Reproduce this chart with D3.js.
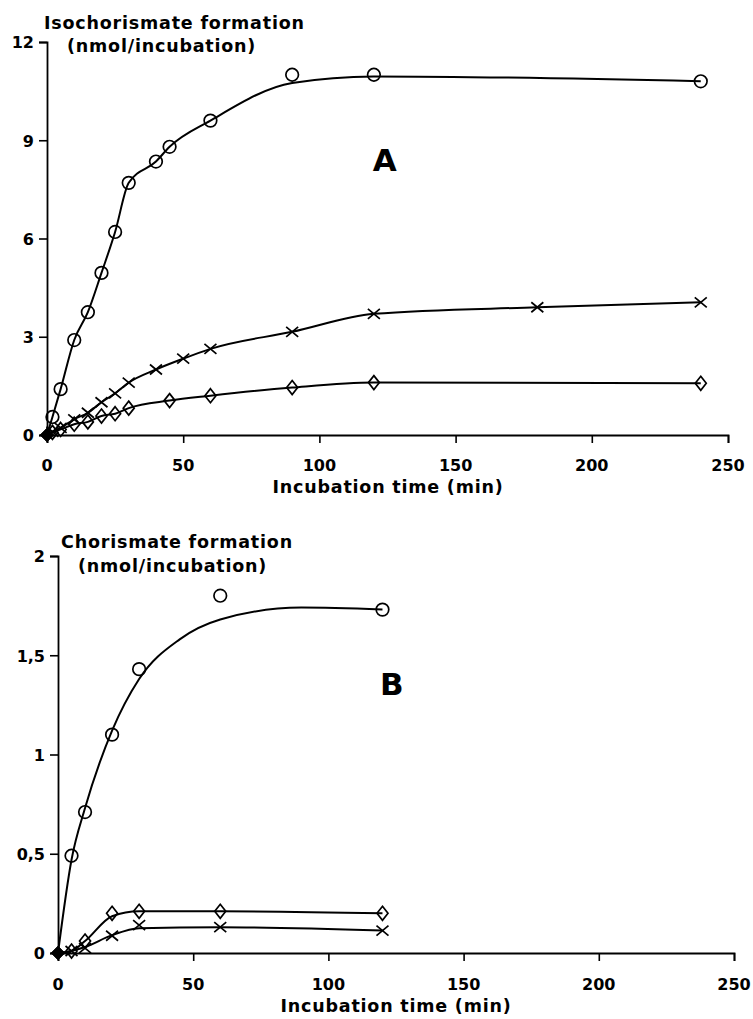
<!DOCTYPE html>
<html lang="en">

<head>
    <meta charset="UTF-8">
    <title>Isochorismate / chorismate formation</title>
    <script src="https://d3js.org/d3.v7.min.js"></script>
</head>

<style>
    body {
        margin: 0;
        background: #fff;
    }

    svg text {
        font-family: "DejaVu Sans", Arial, Helvetica, sans-serif;
        font-weight: bold;
        fill: #000;
    }

    .fit {
        stroke: #000;
        stroke-width: 2;
        fill: none;
    }

    .mark {
        stroke: #000;
        stroke-width: 1.7;
        fill: none;
    }
</style>

<body>
    <script>
        // panel A: isochorismate formation
        const xTicks = [0, 50, 100, 150, 200, 250]
        const yTicksA = [0, 3, 6, 9, 12]
        const yTicksB = [0, 0.5, 1, 1.5, 2]

        const timeACircle = [0, 2, 5, 10, 15, 20, 25, 30, 40, 45, 60, 90, 120, 240]
        const isoCircle = [0, 0.55, 1.4, 2.9, 3.75, 4.95, 6.2, 7.7, 8.35, 8.8, 9.6, 11.0, 11.0, 10.8]
        const isoCircleFit = [0, 0.55, 1.4, 2.9, 3.75, 4.95, 6.2, 7.7, 8.35, 8.8, 9.6, 10.75, 10.95, 10.8]

        const timeACross = [0, 2, 5, 10, 15, 20, 25, 30, 40, 50, 60, 90, 120, 180, 240]
        const isoCross = [0, 0.1, 0.22, 0.48, 0.68, 1.0, 1.27, 1.6, 2.0, 2.33, 2.63, 3.15, 3.7, 3.9, 4.05]

        const timeADiamond = [0, 2, 5, 10, 15, 20, 25, 30, 45, 60, 90, 120, 240]
        const isoDiamond = [0, 0.08, 0.17, 0.33, 0.4, 0.58, 0.65, 0.82, 1.05, 1.2, 1.45, 1.6, 1.58]

        // panel B: chorismate formation
        const timeB = [0, 5, 10, 20, 30, 60, 120]
        const choCircle = [0, 0.49, 0.71, 1.1, 1.43, 1.8, 1.73]
        const timeBCircleFit = [0, 5, 10, 20, 30, 45, 60, 90, 120]
        const choCircleFit = [0, 0.47, 0.73, 1.12, 1.38, 1.58, 1.68, 1.74, 1.73]
        const choDiamond = [0, 0.01, 0.06, 0.2, 0.21, 0.21, 0.2]
        const choDiamondFit = [0, 0.01, 0.06, 0.185, 0.21, 0.21, 0.2]
        const choCross = [0, 0.01, 0.025, 0.087, 0.14, 0.13, 0.113]
        const choCrossFit = [0, 0.01, 0.03, 0.09, 0.125, 0.13, 0.113]

        const zip = (xs, ys) => xs.map((t, i) => ({ t: t, v: ys[i] }))

        const panels = [
            {
                xRange: [47, 728], yRange: [435, 42], yMax: 12, yTicks: yTicksA,
                fmt: d => d,
                title: ["Isochorismate formation", "(nmol/incubation)"],
                titleX: [44, 67], titleY: [29, 52],
                tickY: 471, labelY: 493, labelX: 388,
                letter: "A", letterPos: [124, 8.05],
                series: [
                    { shape: "circle", pts: zip(timeACircle, isoCircle), fit: zip(timeACircle, isoCircleFit) },
                    { shape: "cross", pts: zip(timeACross, isoCross), fit: zip(timeACross, isoCross) },
                    { shape: "diamond", pts: zip(timeADiamond, isoDiamond), fit: zip(timeADiamond, isoDiamond) }
                ]
            },
            {
                xRange: [58, 734], yRange: [953, 556], yMax: 2, yTicks: yTicksB,
                fmt: d => String(d).replace(".", ","),
                title: ["Chorismate formation", "(nmol/incubation)"],
                titleX: [61, 78], titleY: [548, 572],
                tickY: 990, labelY: 1012, labelX: 396,
                letter: "B", letterPos: [123.5, 1.3],
                series: [
                    { shape: "circle", pts: zip(timeB, choCircle), fit: zip(timeBCircleFit, choCircleFit) },
                    { shape: "diamond", pts: zip(timeB, choDiamond), fit: zip(timeB, choDiamondFit) },
                    { shape: "cross", pts: zip(timeB, choCross), fit: zip(timeB, choCrossFit) }
                ]
            }
        ]

        const svg = d3.select("body").append("svg")
            .attr("width", 753)
            .attr("height", 1019)

        function drawMark(g, shape, cx, cy, origin) {
            if (origin) {
                // overlapping symbols at t = 0 print as a solid blob
                g.append("path")
                    .attr("d", "M" + cx + "," + (cy - 7) + "L" + (cx + 7) + "," + cy + "L" + cx + "," + (cy + 7) + "L" + (cx - 7) + "," + cy + "Z")
                    .style("fill", "#000")
                return
            }
            if (shape === "circle") {
                g.append("circle").attr("class", "mark")
                    .attr("cx", cx).attr("cy", cy).attr("r", 6.3)
            } else if (shape === "cross") {
                g.append("path").attr("class", "mark")
                    .attr("d", "M" + (cx - 6) + "," + (cy - 5) + "L" + (cx + 6) + "," + (cy + 5) +
                        "M" + (cx - 6) + "," + (cy + 5) + "L" + (cx + 6) + "," + (cy - 5))
            } else {
                g.append("path").attr("class", "mark")
                    .attr("d", "M" + cx + "," + (cy - 7) + "L" + (cx + 5.5) + "," + cy + "L" + cx + "," + (cy + 7) + "L" + (cx - 5.5) + "," + cy + "Z")
            }
        }

        panels.forEach(p => {
            const x = d3.scaleLinear().domain([0, 250]).range(p.xRange)
            const y = d3.scaleLinear().domain([0, p.yMax]).range(p.yRange)
            const g = svg.append("g")

            const xAxis = g.append("g")
                .attr("transform", "translate(0," + p.yRange[0] + ")")
                .call(d3.axisBottom(x).tickValues(xTicks).tickSize(8).tickSizeOuter(8).tickPadding(0))
            xAxis.selectAll("text").remove()
            const yAxis = g.append("g")
                .attr("transform", "translate(" + p.xRange[0] + ",0)")
                .call(d3.axisLeft(y).tickValues(p.yTicks).tickSize(8).tickSizeOuter(8).tickFormat(p.fmt).tickPadding(5))
            g.selectAll(".domain").style("stroke", "#000").style("stroke-width", 1.8)
            g.selectAll(".tick line").style("stroke", "#000").style("stroke-width", 1.6)
            yAxis.selectAll("text")
                .style("font-size", "16px")
                .style("font-family", "'DejaVu Sans', Arial, sans-serif")
                .style("font-weight", "bold")
                .attr("dy", "0.36em")

            g.selectAll(".xlab").data(xTicks).enter().append("text")
                .attr("x", d => x(d))
                .attr("y", p.tickY)
                .style("text-anchor", "middle")
                .style("font-size", "16px")
                .text(d => d)

            g.append("text")
                .attr("x", p.labelX)
                .attr("y", p.labelY)
                .style("text-anchor", "middle")
                .style("font-size", "17.5px")
                .style("letter-spacing", "0.8px")
                .text("Incubation time (min)")

            p.title.forEach((t, i) => {
                g.append("text")
                    .attr("x", p.titleX[i])
                    .attr("y", p.titleY[i])
                    .style("font-size", "17.5px")
                    .style("letter-spacing", "0.8px")
                    .text(t)
            })

            g.append("text")
                .attr("x", x(p.letterPos[0]))
                .attr("y", y(p.letterPos[1]))
                .style("text-anchor", "middle")
                .style("font-size", "31px")
                .text(p.letter)

            const line = d3.line()
                .x(d => x(d.t))
                .y(d => y(d.v))
                .curve(d3.curveMonotoneX)

            p.series.forEach(s => {
                g.append("path")
                    .attr("class", "fit")
                    .attr("d", line(s.fit))
                s.pts.forEach(d => drawMark(g, s.shape, x(d.t), y(d.v), d.t === 0))
            })
        })
    </script>
</body>
</html>
